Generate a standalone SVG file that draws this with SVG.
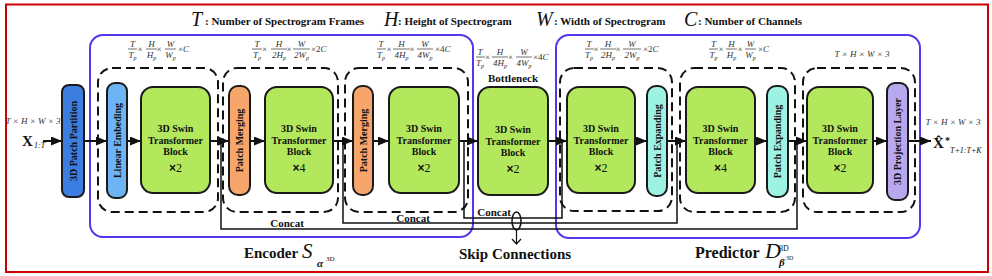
<svg xmlns="http://www.w3.org/2000/svg" width="992" height="276" viewBox="0 0 992 276">
<defs>
<marker id="ah" markerWidth="11" markerHeight="9" refX="11" refY="4.5" orient="auto" markerUnits="userSpaceOnUse"><path d="M0,0 L11,4.5 L0,9 Z" fill="#111"/></marker>
<style>
.t{font-family:"Liberation Serif","Times New Roman",serif;fill:#111}
.b{font-weight:bold}
.i{font-style:italic}
.u{font-style:normal}
.node{stroke:#1a1a1a;stroke-width:2}
.swin{fill:#b3e85c}
.stage{fill:none;stroke:#111;stroke-width:2;stroke-dasharray:9 5}
.mod{fill:none;stroke:#5236f0;stroke-width:2}
.ln{fill:none;stroke:#111;stroke-width:2}
.sk{fill:none;stroke:#111;stroke-width:1.5}
.st{font-size:10px;font-weight:bold;text-anchor:middle}
.vt{font-size:10px;font-weight:bold;text-anchor:middle}
.f{font-size:9px;font-style:italic;text-anchor:middle;fill:#333}
.fx{font-size:9px;fill:#333}
.fs{font-size:6px}
.bar{stroke:#333;stroke-width:0.7}
.leg{font-size:11px;font-weight:bold}
.big{font-size:20px;font-style:italic}
.cc{font-size:11px;font-weight:bold;text-anchor:middle}
</style>
</defs>
<rect width="992" height="276" fill="#fff"/>
<rect x="6" y="4.5" width="982" height="267.5" fill="none" stroke="#cc0000" stroke-width="2"/>

<g id="legend" class="t">
<text x="191" y="26" class="big">T</text><text x="205" y="25" class="leg">: Number of Spectrogram Frames</text>
<text x="384" y="26" class="big">H</text><text x="398" y="25" class="leg">: Height of Spectrogram</text>
<text x="536" y="26" class="big">W</text><text x="554" y="25" class="leg">: Width of Spectrogram</text>
<text x="684" y="26" class="big">C</text><text x="698" y="25" class="leg">: Number of Channels</text>
</g>

<g id="encoder">
<rect x="90" y="35" width="383" height="202" rx="13" class="mod"/>
<text class="t b" x="244" y="258" font-size="15">Encoder</text>
<text class="t i" x="302" y="258" font-size="21">S</text>
<text class="t b i" x="317" y="267" font-size="11">α</text>
<text class="t" x="326" y="261" font-size="7">3D</text>
</g>
<g id="predictor">
<rect x="556" y="35" width="364" height="203" rx="13" class="mod"/>
<text class="t b" x="695" y="258" font-size="16">Predictor</text>
<text class="t i" x="765" y="258" font-size="22">D</text>
<text class="t" x="779" y="251" font-size="8">3D</text>
<text class="t b i" x="779" y="266" font-size="11">β</text>
<text class="t" x="786" y="260" font-size="6">3D</text>
</g>

<g id="stages">
<rect x="98" y="68" width="120" height="144" rx="14" class="stage"/>
<rect x="223" y="68" width="115" height="144" rx="14" class="stage"/>
<rect x="345" y="68" width="123" height="144" rx="14" class="stage"/>
<rect x="560" y="68" width="112" height="143" rx="14" class="stage"/>
<rect x="680" y="68" width="115" height="144" rx="14" class="stage"/>
<rect x="803" y="68" width="112" height="144" rx="14" class="stage"/>
</g>

<g id="dims" class="t">
<text x="132.5" y="47" class="f">T</text><line x1="128" y1="49" x2="137" y2="49" class="bar"/><text x="132.5" y="58" class="f">T<tspan class="fs" dy="2">p</tspan></text>
<text x="140" y="52" class="fx" text-anchor="middle">×</text>
<text x="151.5" y="47" class="f">H</text><line x1="146" y1="49" x2="157" y2="49" class="bar"/><text x="151.5" y="58" class="f">H<tspan class="fs" dy="2">p</tspan></text>
<text x="159" y="52" class="fx" text-anchor="middle">×</text>
<text x="170.5" y="47" class="f">W</text><line x1="165" y1="49" x2="176" y2="49" class="bar"/><text x="170.5" y="58" class="f">W<tspan class="fs" dy="2">p</tspan></text>
<text x="178" y="52" class="fx">×<tspan class="i">C</tspan></text>
<text x="257" y="47" class="f">T</text><line x1="252" y1="49" x2="262" y2="49" class="bar"/><text x="257" y="58" class="f">T<tspan class="fs" dy="2">p</tspan></text>
<text x="264.5" y="52" class="fx" text-anchor="middle">×</text>
<text x="279" y="47" class="f">H</text><line x1="271" y1="49" x2="287" y2="49" class="bar"/><text x="279" y="58" class="f">2H<tspan class="fs" dy="2">p</tspan></text>
<text x="289" y="52" class="fx" text-anchor="middle">×</text>
<text x="301.5" y="47" class="f">W</text><line x1="293" y1="49" x2="310" y2="49" class="bar"/><text x="301.5" y="58" class="f">2W<tspan class="fs" dy="2">p</tspan></text>
<text x="311" y="52" class="fx">×2<tspan class="i">C</tspan></text>
<text x="381" y="47" class="f">T</text><line x1="377" y1="49" x2="386" y2="49" class="bar"/><text x="381" y="58" class="f">T<tspan class="fs" dy="2">p</tspan></text>
<text x="389" y="52" class="fx" text-anchor="middle">×</text>
<text x="401.5" y="47" class="f">H</text><line x1="393" y1="49" x2="410" y2="49" class="bar"/><text x="401.5" y="58" class="f">4H<tspan class="fs" dy="2">p</tspan></text>
<text x="412" y="52" class="fx" text-anchor="middle">×</text>
<text x="425" y="47" class="f">W</text><line x1="417" y1="49" x2="433" y2="49" class="bar"/><text x="425" y="58" class="f">4W<tspan class="fs" dy="2">p</tspan></text>
<text x="435" y="52" class="fx">×4<tspan class="i">C</tspan></text>
<text x="480" y="55" class="f">T</text><line x1="476" y1="57" x2="485" y2="57" class="bar"/><text x="480" y="66" class="f">T<tspan class="fs" dy="2">p</tspan></text>
<text x="487.5" y="60" class="fx" text-anchor="middle">×</text>
<text x="500" y="55" class="f">H</text><line x1="492" y1="57" x2="508" y2="57" class="bar"/><text x="500" y="66" class="f">4H<tspan class="fs" dy="2">p</tspan></text>
<text x="510.5" y="60" class="fx" text-anchor="middle">×</text>
<text x="524" y="55" class="f">W</text><line x1="516" y1="57" x2="532" y2="57" class="bar"/><text x="524" y="66" class="f">4W<tspan class="fs" dy="2">p</tspan></text>
<text x="533" y="60" class="fx">×4<tspan class="i">C</tspan></text>
<text x="589" y="47" class="f">T</text><line x1="585" y1="49" x2="594" y2="49" class="bar"/><text x="589" y="58" class="f">T<tspan class="fs" dy="2">p</tspan></text>
<text x="596" y="52" class="fx" text-anchor="middle">×</text>
<text x="608" y="47" class="f">H</text><line x1="600" y1="49" x2="616" y2="49" class="bar"/><text x="608" y="58" class="f">2H<tspan class="fs" dy="2">p</tspan></text>
<text x="618" y="52" class="fx" text-anchor="middle">×</text>
<text x="632" y="47" class="f">W</text><line x1="623" y1="49" x2="641" y2="49" class="bar"/><text x="632" y="58" class="f">2W<tspan class="fs" dy="2">p</tspan></text>
<text x="643" y="52" class="fx">×2<tspan class="i">C</tspan></text>
<text x="713.5" y="47" class="f">T</text><line x1="709" y1="49" x2="718" y2="49" class="bar"/><text x="713.5" y="58" class="f">T<tspan class="fs" dy="2">p</tspan></text>
<text x="721" y="52" class="fx" text-anchor="middle">×</text>
<text x="731.5" y="47" class="f">H</text><line x1="726" y1="49" x2="737" y2="49" class="bar"/><text x="731.5" y="58" class="f">H<tspan class="fs" dy="2">p</tspan></text>
<text x="740" y="52" class="fx" text-anchor="middle">×</text>
<text x="750.5" y="47" class="f">W</text><line x1="745" y1="49" x2="756" y2="49" class="bar"/><text x="750.5" y="58" class="f">W<tspan class="fs" dy="2">p</tspan></text>
<text x="758" y="52" class="fx">×<tspan class="i">C</tspan></text>
<text x="862" y="57" class="f">T × H × W × 3</text>
<text x="513" y="82" class="t b" font-size="11" text-anchor="middle">Bottleneck</text>
</g>

<g id="connectors">
<line x1="43" y1="141" x2="62" y2="141" class="ln" marker-end="url(#ah)"/>
<line x1="84" y1="141" x2="107" y2="141" class="ln" marker-end="url(#ah)"/>
<line x1="127" y1="141" x2="141" y2="141" class="ln" marker-end="url(#ah)"/>
<line x1="210" y1="141" x2="229" y2="141" class="ln" marker-end="url(#ah)"/>
<line x1="250" y1="141" x2="265" y2="141" class="ln" marker-end="url(#ah)"/>
<line x1="333" y1="141" x2="353" y2="141" class="ln" marker-end="url(#ah)"/>
<line x1="373" y1="141" x2="389" y2="141" class="ln" marker-end="url(#ah)"/>
<line x1="459" y1="141" x2="478" y2="141" class="ln" marker-end="url(#ah)"/>
<line x1="548" y1="141" x2="567" y2="141" class="ln" marker-end="url(#ah)"/>
<line x1="635" y1="141" x2="647" y2="141" class="ln" marker-end="url(#ah)"/>
<line x1="667" y1="141" x2="686" y2="141" class="ln" marker-end="url(#ah)"/>
<line x1="755" y1="141" x2="767" y2="141" class="ln" marker-end="url(#ah)"/>
<line x1="788" y1="141" x2="807" y2="141" class="ln" marker-end="url(#ah)"/>
<line x1="873" y1="141" x2="887" y2="141" class="ln" marker-end="url(#ah)"/>
<line x1="908" y1="141" x2="931" y2="141" class="ln" marker-end="url(#ah)"/>
<path d="M221,141 V229 H797 V141" class="sk"/>
<path d="M343,141 V223 H677 V141" class="sk"/>
<path d="M464,141 V218 H562 V141" class="sk"/>
<ellipse cx="516.5" cy="221" rx="4.5" ry="9" fill="none" stroke="#111" stroke-width="1.5"/>
<path d="M516.5,230 V244 M512,239 L516.5,244 L521,239" fill="none" stroke="#111" stroke-width="1.2"/>
<text class="t cc" x="287" y="227">Concat</text>
<text class="t cc" x="413" y="221.5">Concat</text>
<text class="t cc" x="494" y="216">Concat</text>
<text class="t b" x="515" y="259" font-size="15" text-anchor="middle">Skip Connections</text>
</g>

<g id="input" class="t">
<text x="33" y="124" class="f">T × H × W × 3</text>
<text x="22" y="146" class="b" font-size="15">X</text>
<text x="34" y="148" class="i" font-size="8">1:T</text>
</g>
<g id="output" class="t">
<text x="953" y="125" class="f">T × H × W × 3</text>
<text x="933" y="148" class="b" font-size="15">X̂</text>
<text x="945" y="144" class="b" font-size="10">*</text>
<text x="950" y="153" class="i" font-size="8">T+1:T+K</text>
</g>

<g id="patch_partition">
<rect x="62" y="85" width="22" height="112" rx="7" fill="#3b7de0" class="node"/>
<text class="t vt" transform="translate(73,141) rotate(-90)" y="3.5">3D Patch Partition</text>
</g>
<g id="linear_embedding">
<rect x="107" y="83" width="20" height="115" rx="8" fill="#6cb4f4" class="node"/>
<text class="t vt" transform="translate(117,140.5) rotate(-90)" y="3.5">Linear Embeding</text>
</g>
<g id="swin_e1">
<rect x="141" y="87" width="69" height="106" rx="12" class="node swin"/>
<text class="t st" x="175.5" y="132">3D Swin</text><text class="t st" x="175.5" y="144">Transformer</text><text class="t st" x="175.5" y="155">Block</text><text class="t" x="175.5" y="172" font-size="12" text-anchor="middle"><tspan font-weight="bold" font-family="Liberation Sans,sans-serif">×</tspan>2</text>
</g>
<g id="patch_merging_1">
<rect x="229" y="86" width="21" height="109" rx="9" fill="#f7a66b" class="node"/>
<text class="t vt" transform="translate(239.5,140.5) rotate(-90)" y="3.5">Patch Merging</text>
</g>
<g id="swin_e2">
<rect x="265" y="87" width="68" height="106" rx="12" class="node swin"/>
<text class="t st" x="299" y="132">3D Swin</text><text class="t st" x="299" y="144">Transformer</text><text class="t st" x="299" y="155">Block</text><text class="t" x="299" y="172" font-size="12" text-anchor="middle"><tspan font-weight="bold" font-family="Liberation Sans,sans-serif">×</tspan>4</text>
</g>
<g id="patch_merging_2">
<rect x="353" y="86" width="20" height="109" rx="9" fill="#f7a66b" class="node"/>
<text class="t vt" transform="translate(363,140.5) rotate(-90)" y="3.5">Patch Merging</text>
</g>
<g id="swin_e3">
<rect x="389" y="87" width="70" height="106" rx="12" class="node swin"/>
<text class="t st" x="424" y="132">3D Swin</text><text class="t st" x="424" y="144">Transformer</text><text class="t st" x="424" y="155">Block</text><text class="t" x="424" y="172" font-size="12" text-anchor="middle"><tspan font-weight="bold" font-family="Liberation Sans,sans-serif">×</tspan>2</text>
</g>
<g id="bottleneck">
<rect x="478" y="87" width="70" height="108" rx="12" class="node swin"/>
<text class="t st" x="513" y="133">3D Swin</text><text class="t st" x="513" y="145">Transformer</text><text class="t st" x="513" y="156">Block</text><text class="t" x="513" y="173" font-size="12" text-anchor="middle"><tspan font-weight="bold" font-family="Liberation Sans,sans-serif">×</tspan>2</text>
</g>
<g id="swin_p1">
<rect x="567" y="87" width="68" height="106" rx="12" class="node swin"/>
<text class="t st" x="601" y="132">3D Swin</text><text class="t st" x="601" y="144">Transformer</text><text class="t st" x="601" y="155">Block</text><text class="t" x="601" y="172" font-size="12" text-anchor="middle"><tspan font-weight="bold" font-family="Liberation Sans,sans-serif">×</tspan>2</text>
</g>
<g id="patch_expanding_1">
<rect x="647" y="86" width="20" height="110" rx="9" fill="#9cf3e3" class="node"/>
<text class="t vt" transform="translate(657,141) rotate(-90)" y="3.5">Patch Expanding</text>
</g>
<g id="swin_p2">
<rect x="686" y="87" width="69" height="106" rx="12" class="node swin"/>
<text class="t st" x="720.5" y="132">3D Swin</text><text class="t st" x="720.5" y="144">Transformer</text><text class="t st" x="720.5" y="155">Block</text><text class="t" x="720.5" y="172" font-size="12" text-anchor="middle"><tspan font-weight="bold" font-family="Liberation Sans,sans-serif">×</tspan>4</text>
</g>
<g id="patch_expanding_2">
<rect x="767" y="86" width="21" height="111" rx="9" fill="#9cf3e3" class="node"/>
<text class="t vt" transform="translate(777.5,141.5) rotate(-90)" y="3.5">Patch Expanding</text>
</g>
<g id="swin_p3">
<rect x="807" y="87" width="66" height="106" rx="12" class="node swin"/>
<text class="t st" x="840" y="132">3D Swin</text><text class="t st" x="840" y="144">Transformer</text><text class="t st" x="840" y="155">Block</text><text class="t" x="840" y="172" font-size="12" text-anchor="middle"><tspan font-weight="bold" font-family="Liberation Sans,sans-serif">×</tspan>2</text>
</g>
<g id="projection_layer">
<rect x="887" y="83" width="21" height="117" rx="8" fill="#b8a9ef" class="node"/>
<text class="t vt" transform="translate(897.5,141.5) rotate(-90)" y="3.5">3D Projection Layer</text>
</g>
</svg>
